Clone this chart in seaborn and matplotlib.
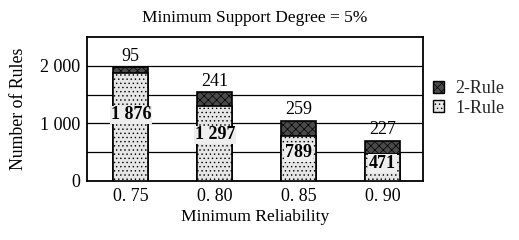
import matplotlib
matplotlib.use("Agg")
import matplotlib.pyplot as plt
import seaborn as sns
import pandas as pd
from matplotlib.patches import Patch

categories = ["0. 75", "0. 80", "0. 85", "0. 90"]
rule1 = [1876, 1297, 789, 471]
rule2 = [95, 241, 259, 227]
rule1_labels = ["1 876", "1 297", "789", "471"]
ytick_vals = [0, 1000, 2000]
ytick_labels = ["0", "1 000", "2 000"]

sns.set_theme(style="white")
plt.rcParams['font.family'] = ['Liberation Serif', 'DejaVu Serif']
plt.rcParams['hatch.linewidth'] = 0.5

df = pd.DataFrame({"cat": categories, "r1": rule1, "r2": rule2})
df["total"] = df["r1"] + df["r2"]

fig = plt.figure(figsize=(5.19, 2.4), dpi=100)
ax = fig.add_axes([0.168, 0.246, 0.647, 0.60])

sns.barplot(data=df, x="cat", y="total", ax=ax, color="#4a4a4a", width=0.42,
            edgecolor="black", linewidth=1.2, hatch="xxxx", zorder=3)
sns.barplot(data=df, x="cat", y="r1", ax=ax, color="#e6e6e6", width=0.42,
            edgecolor="black", linewidth=1.2, hatch="....", zorder=4)

ax.set_ylim(0, 2500)
ax.set_xlim(-0.52, 3.48)
ax.set_yticks(ytick_vals)
ax.set_yticklabels(ytick_labels)
for v in [500, 1000, 1500, 2000]:
    ax.axhline(v, color="black", lw=0.9, zorder=1)
for s in ax.spines.values():
    s.set_color("black")
    s.set_linewidth(1.3)
    s.set_visible(True)

ax.tick_params(axis="both", labelsize=13, colors="black", length=0, pad=5)
ax.set_xlabel("Minimum Reliability", fontsize=12.6, color="black", labelpad=3)
ax.set_ylabel("Number of Rules", fontsize=12.8, color="black", labelpad=9)
ax.set_title("Minimum Support Degree = 5%", fontsize=12.5, color="black", pad=11)

for i in range(len(categories)):
    ax.text(i, df["total"][i] + 45, str(rule2[i]), ha="center", va="bottom",
            fontsize=13, color="black", zorder=6)
    ax.text(i, rule1[i] * 0.6 + 20, rule1_labels[i], ha="center", va="center",
            fontsize=13, color="black", fontweight="bold", zorder=6,
            bbox=dict(boxstyle="square,pad=0.05", fc="#eeeeee", ec="none"))

handles = [Patch(facecolor="#4a4a4a", edgecolor="black", hatch="xxxx", label="2-Rule"),
           Patch(facecolor="#e6e6e6", edgecolor="black", hatch="....", label="1-Rule")]
fig.legend(handles=handles, loc="center left", bbox_to_anchor=(0.816, 0.59),
           frameon=False, fontsize=13, handlelength=0.65, handleheight=0.65,
           handletextpad=0.6, labelspacing=0.15, borderpad=0)

fig.savefig("out.png", dpi=100)
